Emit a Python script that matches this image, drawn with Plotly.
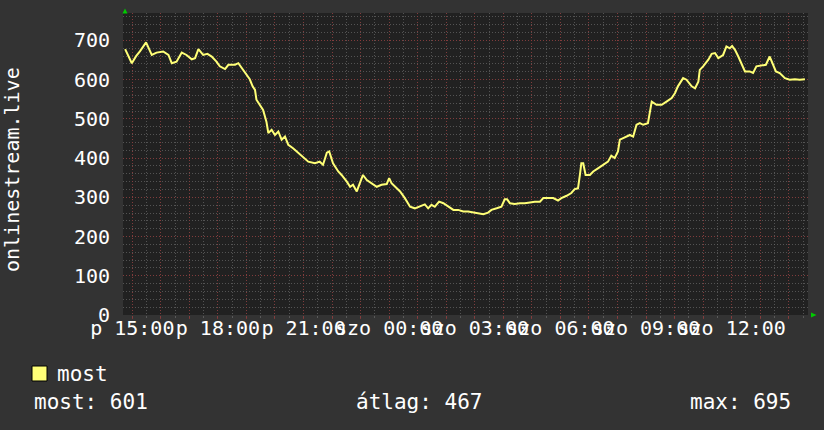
import plotly.graph_objects as go

# ---- data (Fri 2024-03-01 -> Sat 2024-03-02) ----
times = [
    "2024-03-01 14:45", "2024-03-01 14:59", "2024-03-01 15:08", "2024-03-01 15:16", "2024-03-01 15:29",
    "2024-03-01 15:41", "2024-03-01 15:51", "2024-03-01 16:05", "2024-03-01 16:16", "2024-03-01 16:23",
    "2024-03-01 16:33", "2024-03-01 16:44", "2024-03-01 16:54", "2024-03-01 17:05", "2024-03-01 17:12",
    "2024-03-01 17:19", "2024-03-01 17:29", "2024-03-01 17:38", "2024-03-01 17:47", "2024-03-01 17:57",
    "2024-03-01 18:04", "2024-03-01 18:15", "2024-03-01 18:22", "2024-03-01 18:36", "2024-03-01 18:43",
    "2024-03-01 18:50", "2024-03-01 19:00", "2024-03-01 19:07", "2024-03-01 19:13", "2024-03-01 19:18",
    "2024-03-01 19:21", "2024-03-01 19:28", "2024-03-01 19:35", "2024-03-01 19:42", "2024-03-01 19:46",
    "2024-03-01 19:53", "2024-03-01 20:00", "2024-03-01 20:07", "2024-03-01 20:14", "2024-03-01 20:21",
    "2024-03-01 20:28", "2024-03-01 20:38", "2024-03-01 20:49", "2024-03-01 20:59", "2024-03-01 21:10",
    "2024-03-01 21:24", "2024-03-01 21:34", "2024-03-01 21:41", "2024-03-01 21:49", "2024-03-01 21:54",
    "2024-03-01 22:02", "2024-03-01 22:13", "2024-03-01 22:20", "2024-03-01 22:31", "2024-03-01 22:38",
    "2024-03-01 22:44", "2024-03-01 22:52", "2024-03-01 22:57", "2024-03-01 23:05", "2024-03-01 23:13",
    "2024-03-01 23:23", "2024-03-01 23:34", "2024-03-01 23:44", "2024-03-01 23:55", "2024-03-02 00:00",
    "2024-03-02 00:05", "2024-03-02 00:16", "2024-03-02 00:23", "2024-03-02 00:33", "2024-03-02 00:44",
    "2024-03-02 00:54", "2024-03-02 01:05", "2024-03-02 01:15", "2024-03-02 01:22", "2024-03-02 01:29",
    "2024-03-02 01:36", "2024-03-02 01:45", "2024-03-02 01:54", "2024-03-02 02:04", "2024-03-02 02:15",
    "2024-03-02 02:25", "2024-03-02 02:36", "2024-03-02 02:46", "2024-03-02 02:57", "2024-03-02 03:07",
    "2024-03-02 03:18", "2024-03-02 03:28", "2024-03-02 03:35", "2024-03-02 03:46", "2024-03-02 03:56",
    "2024-03-02 04:03", "2024-03-02 04:08", "2024-03-02 04:14", "2024-03-02 04:24", "2024-03-02 04:35",
    "2024-03-02 04:45", "2024-03-02 04:56", "2024-03-02 05:06", "2024-03-02 05:17", "2024-03-02 05:24",
    "2024-03-02 05:34", "2024-03-02 05:45", "2024-03-02 05:55", "2024-03-02 06:02", "2024-03-02 06:13",
    "2024-03-02 06:23", "2024-03-02 06:30", "2024-03-02 06:37", "2024-03-02 06:41", "2024-03-02 06:44",
    "2024-03-02 06:48", "2024-03-02 06:53", "2024-03-02 07:02", "2024-03-02 07:09", "2024-03-02 07:19",
    "2024-03-02 07:30", "2024-03-02 07:40", "2024-03-02 07:47", "2024-03-02 07:54", "2024-03-02 08:01",
    "2024-03-02 08:05", "2024-03-02 08:12", "2024-03-02 08:19", "2024-03-02 08:26", "2024-03-02 08:33",
    "2024-03-02 08:40", "2024-03-02 08:47", "2024-03-02 08:54", "2024-03-02 09:04", "2024-03-02 09:12",
    "2024-03-02 09:22", "2024-03-02 09:33", "2024-03-02 09:43", "2024-03-02 09:54", "2024-03-02 10:01",
    "2024-03-02 10:07", "2024-03-02 10:18", "2024-03-02 10:25", "2024-03-02 10:36", "2024-03-02 10:43",
    "2024-03-02 10:50", "2024-03-02 10:53", "2024-03-02 11:00", "2024-03-02 11:11", "2024-03-02 11:18",
    "2024-03-02 11:25", "2024-03-02 11:32", "2024-03-02 11:42", "2024-03-02 11:49", "2024-03-02 11:56",
    "2024-03-02 12:01", "2024-03-02 12:07", "2024-03-02 12:14", "2024-03-02 12:21", "2024-03-02 12:28",
    "2024-03-02 12:38", "2024-03-02 12:45", "2024-03-02 12:52", "2024-03-02 13:03", "2024-03-02 13:12",
    "2024-03-02 13:20", "2024-03-02 13:27", "2024-03-02 13:33", "2024-03-02 13:41", "2024-03-02 13:52",
    "2024-03-02 14:02", "2024-03-02 14:13", "2024-03-02 14:23", "2024-03-02 14:34",
]
most = [
    678, 642, 660, 672, 695, 663, 669, 672, 663, 642,
    646, 669, 663, 652, 655, 678, 663, 666, 659, 646,
    634, 627, 638, 638, 642, 630, 612, 601, 583, 574,
    549, 536, 523, 493, 464, 472, 459, 468, 447, 455,
    434, 425, 413, 404, 391, 387, 391, 383, 414, 417,
    387, 366, 357, 340, 327, 332, 315, 332, 357, 344,
    336, 327, 332, 334, 349, 336, 323, 315, 298, 276,
    272, 278, 282, 272, 281, 276, 289, 285, 276, 268,
    268, 264, 264, 261, 259, 257, 261, 268, 272, 276,
    295, 295, 285, 283, 285, 285, 287, 289, 289, 298,
    298, 298, 292, 298, 304, 311, 321, 323, 357, 387,
    387, 357, 357, 366, 374, 383, 391, 406, 400, 417,
    447, 451, 455, 459, 455, 485, 489, 485, 489, 544,
    536, 536, 544, 553, 566, 583, 604, 600, 583, 578,
    595, 625, 634, 651, 666, 668, 655, 663, 685, 680,
    686, 676, 659, 638, 621, 621, 617, 634, 636, 638,
    659, 638, 621, 617, 604, 600, 601, 600, 601,
]

hour_ticks = [
    "2024-03-01 15:00", "2024-03-01 16:00", "2024-03-01 17:00", "2024-03-01 18:00",
    "2024-03-01 19:00", "2024-03-01 20:00", "2024-03-01 21:00", "2024-03-01 22:00",
    "2024-03-01 23:00", "2024-03-02 00:00", "2024-03-02 01:00", "2024-03-02 02:00",
    "2024-03-02 03:00", "2024-03-02 04:00", "2024-03-02 05:00", "2024-03-02 06:00",
    "2024-03-02 07:00", "2024-03-02 08:00", "2024-03-02 09:00", "2024-03-02 10:00",
    "2024-03-02 11:00", "2024-03-02 12:00", "2024-03-02 13:00", "2024-03-02 14:00",
]
hour_labels = [
    "p 15:00", "", "", "p 18:00", "", "", "p 21:00", "", "",
    "szo 00:00", "", "", "szo 03:00", "", "", "szo 06:00", "", "",
    "szo 09:00", "", "", "szo 12:00", "", "",
]
x_range = ["2024-03-01 14:40:30", "2024-03-02 14:40:30"]
y_ticks = [0, 100, 200, 300, 400, 500, 600, 700]
y_range = [0, 770]

series_name = "most"
axis_title = "onlinestream.live"
stats = ["most: 601", "átlag: 467", "max: 695"]

# ---- layout geometry (pixels) ----
W, H = 824, 430
L, R, T, B = 123, 808, 13, 315
FONT = "DejaVu Sans Mono"
BG = "#333333"
PLOT_BG = "#212121"
LINE = "#FFFF77"
MAJOR = "rgba(140,55,55,0.8)"
MINOR = "rgba(105,105,105,0.7)"


def px(x):
    return (x - L) / (R - L)


def py(y):
    return (B - y) / (B - T)


fig = go.Figure()
fig.add_trace(go.Scatter(
    x=times, y=most, mode="lines", name=series_name,
    line=dict(color=LINE, width=2), showlegend=False, hoverinfo="skip",
))

fig.update_layout(
    width=W, height=H,
    margin=dict(l=L, r=W - R, t=T, b=H - B, pad=0),
    paper_bgcolor=BG, plot_bgcolor=PLOT_BG,
    font=dict(family=FONT, size=20, color="#FFFFFF"),
    showlegend=False,
    xaxis=dict(
        type="date", range=x_range, fixedrange=True,
        tickmode="array", tickvals=hour_ticks, ticktext=hour_labels,
        tickangle=0, tickfont=dict(family=FONT, size=20, color="#FFFFFF"),
        showgrid=True, gridcolor=MAJOR, gridwidth=1, griddash="1px,2px",
        ticks="outside", ticklen=3, tickcolor=MAJOR, ticklabelstandoff=-8,
        minor=dict(dtick=1800000, tick0="2024-03-01 14:30", showgrid=True,
                   gridcolor=MINOR, gridwidth=1, griddash="1px,2px",
                   ticks="outside", ticklen=2, tickcolor=MINOR),
        zeroline=False, showline=False,
    ),
    yaxis=dict(
        range=y_range, fixedrange=True,
        tickmode="array", tickvals=y_ticks,
        tickfont=dict(family=FONT, size=20, color="#FFFFFF"),
        showgrid=True, gridcolor=MAJOR, gridwidth=1, griddash="1px,2px",
        minor=dict(dtick=20, showgrid=True, gridcolor=MINOR, gridwidth=1,
                   griddash="1px,2px"),
        ticks="", ticklabelstandoff=12,
        zeroline=False, showline=False,
    ),
)

ann = []
ann.append(dict(x=px(12), y=py(169), xref="paper", yref="paper", text=axis_title,
                textangle=-90, showarrow=False, xanchor="center", yanchor="middle",
                font=dict(family=FONT, size=20, color="#FFFFFF")))
ann.append(dict(x=px(55), y=py(374), xref="paper", yref="paper", text=series_name,
                showarrow=False, xanchor="left", yanchor="middle",
                font=dict(family=FONT, size=21, color="#FFFFFF")))
for sx, s in zip([31.5, 353.5, 687.5], stats):
    ann.append(dict(x=px(sx), y=py(402), xref="paper", yref="paper", text=s,
                    showarrow=False, xanchor="left", yanchor="middle",
                    font=dict(family=FONT, size=21, color="#FFFFFF")))
fig.update_layout(annotations=ann)

shapes = []
# legend colour box
shapes.append(dict(type="rect", xref="paper", yref="paper",
                   x0=px(32), x1=px(47), y0=py(381), y1=py(366),
                   fillcolor=LINE, line=dict(color="#000000", width=1)))


def tri(pts):
    return "M " + " L ".join(f"{px(a)},{py(b)}" for a, b in pts) + " Z"


# green axis arrows
shapes.append(dict(type="path", xref="paper", yref="paper",
                   path=tri([(122.5, 13.5), (127.5, 13.5), (125, 8.5)]),
                   fillcolor="#00CC00", line=dict(width=0)))
shapes.append(dict(type="path", xref="paper", yref="paper",
                   path=tri([(811, 312.5), (811, 317.5), (816.5, 315)]),
                   fillcolor="#00CC00", line=dict(width=0)))
fig.update_layout(shapes=shapes)

fig.write_html(
    "out.html",
    config={"displayModeBar": False, "staticPlot": True},
    post_script="document.body.style.margin='0';document.body.style.overflow='hidden';",
)
